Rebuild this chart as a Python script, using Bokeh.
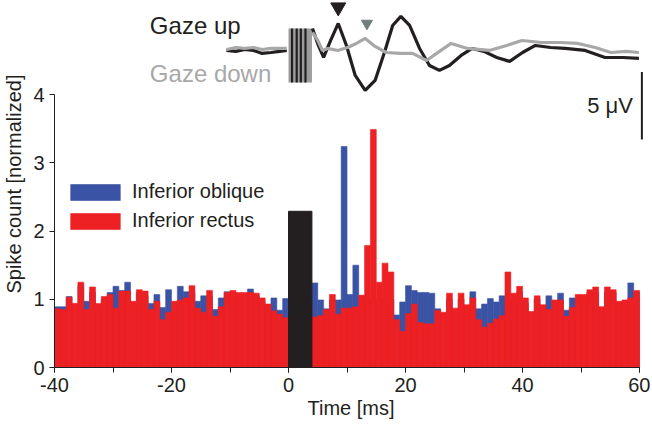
import math
from bokeh.plotting import figure
from bokeh.models import Range1d, Label, Legend, LegendItem, FixedTicker
from bokeh.embed import file_html
from bokeh.resources import INLINE

FONT = "Liberation Sans"
BLUE = "#3A53A4"
RED = "#ED2024"
INK = "#231F20"
GRAY = "#A8A8A8"

# ---- histogram data (1 ms bins, left edges) ----
bin_start = list(range(-40, 60))
bin_width = 1.0

oblique = [
    0.89, 0.89, 1.04, 0.93, 1.20, 0.97, 1.10, 0.90, 1.00, 1.10,   # -40..-31
    1.19, 1.13, 1.25, 0.95, 1.10, 1.05, 0.94, 1.07, 0.88, 1.14,   # -30..-21
    0.95, 1.19, 1.11, 1.10, 0.97, 1.05, 1.05, 0.85, 1.02, 1.11,   # -20..-11
    1.10, 1.05, 1.05, 1.15, 1.05, 0.98, 0.90, 1.02, 0.84, 1.01,   # -10..-1
    1.00, 1.00, 1.00, 1.00, 1.24, 0.99, 0.86, 0.99, 0.99, 3.24,   # 0..9
    1.07, 1.50, 1.05, 1.00, 1.00, 1.00, 1.00, 1.00, 0.77, 0.96,   # 10..19
    1.20, 1.13, 1.10, 1.10, 1.09, 0.86, 0.78, 1.00, 0.85, 1.00,   # 20..29
    0.90, 1.11, 0.86, 0.93, 1.01, 0.96, 1.05, 1.00, 1.00, 1.10,   # 30..39
    0.95, 0.80, 1.00, 0.90, 1.05, 0.95, 1.09, 0.84, 1.02, 1.00,   # 40..49
    1.00, 1.10, 1.10, 0.85, 1.10, 1.10, 0.95, 0.95, 1.24, 1.10,   # 50..59
]
rectus = [
    0.86, 0.85, 1.03, 0.94, 1.25, 0.85, 1.18, 0.94, 1.04, 1.07,   # -40..-31
    0.87, 1.12, 1.12, 0.97, 1.14, 1.12, 0.85, 0.97, 0.70, 0.81,   # -30..-21
    0.97, 0.99, 1.02, 1.20, 0.87, 0.81, 1.13, 0.75, 0.89, 1.10,   # -20..-11
    1.13, 1.10, 1.10, 1.10, 1.09, 1.02, 0.93, 0.83, 0.78, 0.73,   # -10..-1
    0.90, 0.90, 0.90, 0.90, 0.74, 0.76, 0.85, 1.07, 0.78, 0.87,   # 0..9
    0.87, 0.89, 1.06, 1.79, 3.49, 1.25, 1.53, 1.40, 0.70, 0.53,   # 10..19
    0.79, 0.93, 0.66, 0.64, 0.64, 0.84, 0.81, 1.09, 0.87, 1.09,   # 20..29
    0.92, 1.02, 0.70, 0.59, 0.65, 0.71, 0.76, 1.40, 1.09, 1.19,   # 30..39
    1.02, 0.82, 1.05, 0.92, 0.85, 0.99, 0.99, 0.75, 0.88, 1.07,   # 40..49
    1.07, 1.14, 1.18, 0.89, 1.18, 1.14, 0.97, 0.99, 1.02, 1.13,   # 50..59
]
stim_window = [0.0, 4.0]
stim_height = 2.29

x_ticks = [-40, -20, 0, 20, 40, 60]
x_minor = [-40, -30, -20, -10, 0, 10, 20, 30, 40, 50, 60]
y_ticks = [0, 1, 2, 3, 4]

# ---- evoked potential traces (ms, microvolts) ----
NaN = math.nan
up_t = [-10.6, -9.0, -7.5, -6.0, -4.5, -3.0, -1.5, -0.3, NaN,
        4.1, 5.1, 6.0, 7.2, 8.5, 9.9, 11.4, 13.1, 14.8, 16.5, 17.8, 19.2,
        20.7, 22.4, 24.1, 25.8, 27.5, 29.5, 31.4, 33.4, 35.6, 37.8, 40.0,
        42.2, 44.8, 47.3, 50.7, 54.1, 57.2, 59.9]
up_v = [0.00, -0.07, 0.07, 0.00, -0.22, -0.15, -0.07, 0.00, NaN,
        1.63, 0.37, -0.52, 0.74, 2.00, 0.37, -1.85, -2.96, -2.22, 0.00, 1.85, 2.52,
        1.85, 0.15, -1.11, -1.48, -1.11, -0.37, 0.15, -0.07, -0.52, -0.81, -0.15,
        0.37, 0.22, 0.15, 0.00, -0.52, -0.52, -0.59]
down_t = [-10.6, -9.0, -7.5, -6.0, -4.5, -3.0, -1.5, -0.3, NaN,
          4.1, 5.0, 5.8, 6.7, 8.4, 10.1, 11.6, 13.1, 14.8, 16.7, 19.0, 21.2,
          23.6, 25.8, 27.8, 30.6, 34.3, 37.3, 39.9, 43.3, 46.5, 49.5, 52.4,
          55.1, 57.7, 59.9]
down_v = [0.07, 0.22, 0.15, 0.22, 0.07, 0.15, 0.15, 0.15, NaN,
          1.33, 0.74, 0.00, 0.15, 0.00, 0.22, 0.52, 0.89, 0.30, -0.15, -0.22, -0.22,
          -0.74, -0.07, 0.52, 0.15, 0.00, 0.37, 0.74, 0.59, 0.59, 0.52, 0.22,
          -0.15, -0.07, -0.15]
artifact_box = [1.63, -2.37]
artifact_lines = [0.6, 1.4, 2.1, 2.9]
peak_up = (8.5, 3.2)
peak_down = (13.4, 2.0)
scale_x = 60.4
scale_top = -1.6
scale_len = 5.0

# ---- figure ----
p = figure(width=650, height=424, x_range=Range1d(-40, 61.36), y_range=Range1d(0, 5.38),
           output_backend="svg", toolbar_location=None,
           min_border_left=51, min_border_right=3, min_border_top=0, min_border_bottom=57)
p.extra_y_ranges = {"uv": Range1d(-23.48, 3.70)}
p.grid.visible = False
p.outline_line_color = None
p.background_fill_color = "white"
p.border_fill_color = "white"

left = bin_start
right = [b + bin_width for b in bin_start]
r_blue = p.quad(left=left, right=right, bottom=0, top=oblique,
                fill_color=BLUE, line_color=BLUE, line_width=0.6)
r_red = p.quad(left=left, right=right, bottom=0, top=rectus,
               fill_color=RED, line_color=RED, line_width=0.6)
p.quad(left=[stim_window[0]], right=[stim_window[1]], bottom=[0], top=[stim_height],
       fill_color=INK, line_color=INK)

# evoked traces
p.quad(left=[stim_window[0]], right=[stim_window[1]], bottom=[artifact_box[1]],
       top=[artifact_box[0]], y_range_name="uv", fill_color="#9C9C9C", line_color=None)
p.segment(x0=artifact_lines, x1=artifact_lines,
          y0=[artifact_box[0]] * len(artifact_lines), y1=[artifact_box[1]] * len(artifact_lines),
          y_range_name="uv", line_color=INK, line_width=2.2)
p.line(up_t, up_v, y_range_name="uv", line_color=INK, line_width=3.2)
p.line(down_t, down_v, y_range_name="uv", line_color=GRAY, line_width=3.2)
p.scatter([peak_up[0]], [peak_up[1]], y_range_name="uv", marker="inverted_triangle",
          size=15, fill_color=INK, line_color=INK)
p.scatter([peak_down[0]], [peak_down[1]], y_range_name="uv", marker="inverted_triangle",
          size=11, fill_color="#6F7D7D", line_color="#6F7D7D")
p.segment(x0=[scale_x], x1=[scale_x], y0=[scale_top], y1=[scale_top - scale_len],
          y_range_name="uv", line_color=INK, line_width=2)
p.add_layout(Label(x=scale_x, y=scale_top - scale_len / 2, y_range_name="uv", text="5 μV",
                   text_align="right", text_baseline="middle", x_offset=-9,
                   text_font=FONT, text_font_size="22px", text_color=INK))
p.add_layout(Label(x=-23.7, y=1.85, y_range_name="uv", text="Gaze up",
                   text_baseline="middle", text_font=FONT, text_font_size="24px", text_color=INK))
p.add_layout(Label(x=-23.7, y=-1.7, y_range_name="uv", text="Gaze down",
                   text_baseline="middle", text_font=FONT, text_font_size="24px", text_color=GRAY))

# axes
p.xaxis.ticker = FixedTicker(ticks=x_ticks, minor_ticks=x_minor)
p.xaxis.bounds = (-40, 60)
p.xaxis.major_label_overrides = {-40: "-40", -20: "-20"}
p.yaxis.ticker = FixedTicker(ticks=y_ticks)
p.yaxis.bounds = (0, 4)
p.xaxis.axis_label = "Time [ms]"
p.yaxis.axis_label = "Spike count [normalized]"
for ax in (p.xaxis[0], p.yaxis[0]):
    ax.major_tick_in = 0
    ax.major_tick_out = 5
    ax.minor_tick_in = 0
    ax.minor_tick_out = 5
    ax.axis_line_color = INK
    ax.major_tick_line_color = INK
    ax.minor_tick_line_color = INK
    ax.major_label_text_font = FONT
    ax.major_label_text_font_size = "20px"
    ax.major_label_text_color = INK
    ax.axis_label_text_font = FONT
    ax.axis_label_text_font_size = "20px"
    ax.axis_label_text_font_style = "normal"
    ax.axis_label_text_color = INK
p.xaxis[0].major_label_standoff = 5
p.xaxis[0].axis_label_standoff = 2
p.yaxis[0].major_label_standoff = 5
p.yaxis[0].axis_label_standoff = 5

legend = Legend(items=[LegendItem(label="Inferior oblique", renderers=[r_blue]),
                       LegendItem(label="Inferior rectus", renderers=[r_red])],
                location=(10, 135), orientation="vertical",
                border_line_color=None, background_fill_alpha=0,
                padding=0, margin=0, spacing=6, glyph_width=62, glyph_height=20,
                label_standoff=6, label_text_font=FONT, label_text_font_size="20px",
                label_text_color=INK, label_height=20)
p.add_layout(legend)

open("out.html", "w").write(file_html(p, INLINE))
